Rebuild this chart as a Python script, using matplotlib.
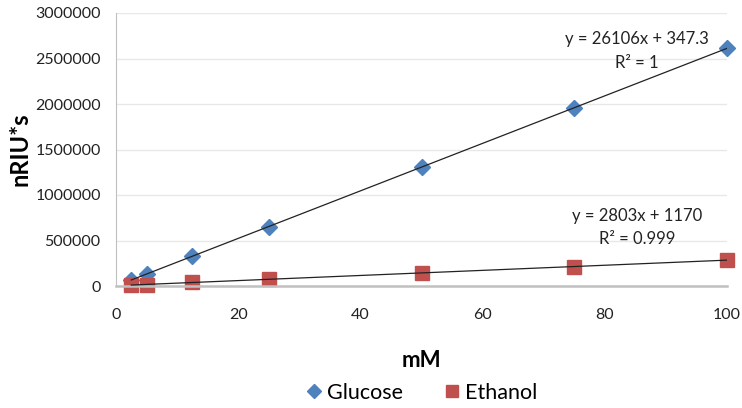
import numpy as np
import matplotlib
matplotlib.use("Agg")
import matplotlib.pyplot as plt
from matplotlib.ticker import FuncFormatter

plt.rcParams['font.family'] = ['Lato', 'DejaVu Sans']

conc = [2.5, 5, 12.5, 25, 50, 75, 100]
glucose = [66000, 131000, 327000, 653000, 1310000, 1958000, 2611000]
ethanol = [8000, 15000, 42000, 76000, 146000, 209000, 286000]

eq_glucose = ["y = 26106x + 347.3", "R² = 1"]
eq_ethanol = ["y = 2803x + 1170", "R² = 0.999"]

fig = plt.figure(figsize=(7.42, 4.08), dpi=100)
ax = fig.add_axes([116/742, 1-286/408, 611/742, 273/408])

ax.set_xlim(0, 100)
ax.set_ylim(0, 3000000)
ax.set_xticks(range(0, 101, 20))
ax.set_yticks(range(0, 3000001, 500000))
ax.yaxis.set_major_formatter(FuncFormatter(lambda v, p: '%d' % v))
ax.yaxis.grid(True, color='#e8e8e8', lw=1)
ax.set_axisbelow(True)

for s in ['top', 'right']:
    ax.spines[s].set_visible(False)
ax.spines['left'].set_color('#c0c0c0')
ax.spines['bottom'].set_color('#c0c0c0')
ax.spines['bottom'].set_linewidth(1.8)
ax.tick_params(length=0, labelsize=11.5, colors='#222222')
ax.tick_params(axis='y', pad=11)
ax.tick_params(axis='x', pad=16)

# linear trendlines
x = np.array(conc)
for ys in (glucose, ethanol):
    k, b = np.polyfit(x, ys, 1)
    ax.plot([x.min(), x.max()], [k*x.min()+b, k*x.max()+b], color='#222222', lw=0.9, zorder=3)

ax.plot(conc, glucose, ls='none', marker='D', ms=8.5, color='#4f81bd', label='Glucose', zorder=2, clip_on=False)
ax.plot(conc, ethanol, ls='none', marker='s', ms=10, color='#c0504d', label='Ethanol', zorder=2, clip_on=False)

ax.text(85.3, 2709000, eq_glucose[0], ha='center', va='center', fontsize=12, color='#222222')
ax.text(85.3, 2456000, eq_glucose[1], ha='center', va='center', fontsize=12, color='#222222')
ax.text(85.3, 771000, eq_ethanol[0], ha='center', va='center', fontsize=12, color='#222222')
ax.text(85.3, 518000, eq_ethanol[1], ha='center', va='center', fontsize=12, color='#222222')

ax.set_ylabel('nRIU*s', fontsize=17, fontweight='bold')
ax.yaxis.set_label_coords(-0.1375, 0.5)
ax.set_xlabel('mM', fontsize=16, fontweight='bold')
ax.xaxis.set_label_coords(0.5, -0.235)

fig.legend(loc='center', bbox_to_anchor=(420/742, 1-393/408), ncol=2, frameon=False,
           fontsize=15.5, handletextpad=0.1, columnspacing=1.8, handlelength=1.0, markerscale=0.8)

fig.savefig('out.png', dpi=100)
